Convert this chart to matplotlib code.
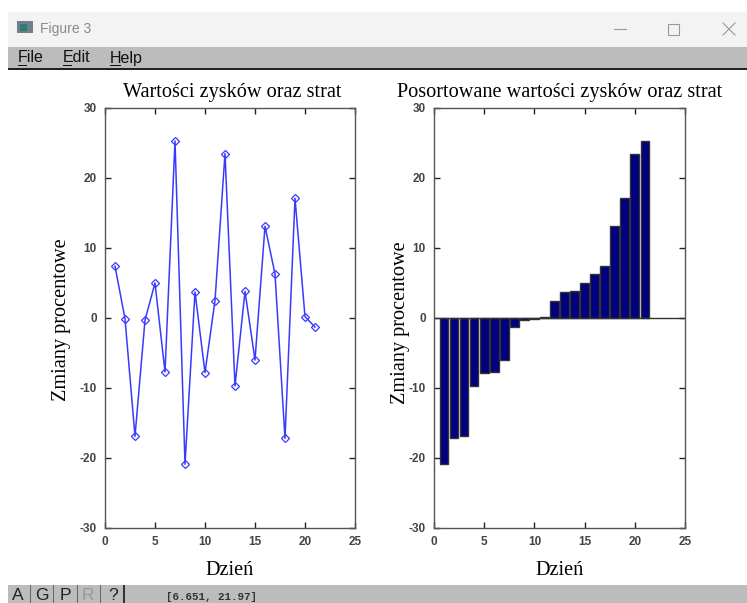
import matplotlib
matplotlib.use("Agg")
import matplotlib.pyplot as plt
from matplotlib.patches import Rectangle

days = list(range(1, 22))
changes = [7.4, -0.1, -16.9, -0.3, 5.0, -7.7, 25.3, -20.9, 3.7, -7.8, 2.5,
           23.5, -9.7, 3.8, -6.0, 13.1, 6.3, -17.2, 17.1, 0.2, -1.3]
sorted_changes = [-20.9, -17.2, -16.9, -9.7, -7.8, -7.7, -6.0, -1.3, -0.3, -0.1, 0.2,
                  2.5, 3.7, 3.8, 5.0, 6.3, 7.4, 13.1, 17.1, 23.5, 25.3]
x_ticks = [0, 5, 10, 15, 20, 25]
y_ticks = [-30, -20, -10, 0, 10, 20, 30]
titles = ["Wartości zysków oraz strat", "Posortowane wartości zysków oraz strat"]
x_name = "Dzień"
y_name = "Zmiany procentowe"
menu_items = [("File", 18, 9), ("Edit", 63, 9), ("Help", 110, 11)]
status_buttons = ["A", "G", "P", "R", "?"]

W, H = 747, 603
SERIF = "Liberation Serif"
SANS = "Liberation Sans"

plt.rcParams["axes.unicode_minus"] = False


def px_box(left, top, right, bottom):
    # pixel box (from top left) to figure fractions
    return [left / W, 1 - bottom / H, (right - left) / W, (bottom - top) / H]


def rect(fig, left, top, right, bottom, color):
    fig.add_artist(Rectangle((left / W, 1 - bottom / H), (right - left) / W, (bottom - top) / H,
                             transform=fig.transFigure, facecolor=color, edgecolor="none"))


def label(fig, x, y, s, **kw):
    fig.text(x / W, 1 - y / H, s, va="center", **kw)


def style_axes(ax, title, title_x, y_label_x, y_label_y):
    ax.set_xlim(0, 25)
    ax.set_ylim(-30, 30)
    ax.set_xticks(x_ticks)
    ax.set_yticks(y_ticks)
    ax.tick_params(direction="in", length=4, width=1, top=True, right=True,
                   labelsize=8.5, labelcolor="#444444", color="#222222", pad=6)
    for t in ax.get_xticklabels() + ax.get_yticklabels():
        t.set_family(SANS)
        t.set_fontweight("bold")
    for s in ax.spines.values():
        s.set_color("#555555")
        s.set_linewidth(1)
    ax.set_title(title, family=SERIF, fontsize=14.6, pad=8, x=title_x)
    ax.set_xlabel(x_name, family=SERIF, fontsize=14.6, labelpad=9)
    ax.set_ylabel(y_name, family=SERIF, fontsize=14.6)
    ax.yaxis.set_label_coords(y_label_x, y_label_y)


def draw_window(fig):
    rect(fig, 8, 12, W, 47, "#f3f3f3")
    rect(fig, 8, 47, W, 68, "#bcbcbc")
    rect(fig, 8, 68, W, 70, "#222222")
    rect(fig, 17, 21, 33, 33, "#6f7f8f")
    rect(fig, 20, 24, 27, 31, "#2f7f6f")
    label(fig, 40, 29, "Figure 3", family=SANS, fontsize=10, color="#8a8a8a")
    # window buttons
    fig.add_artist(plt.Line2D([614 / W, 626 / W], [1 - 29 / H] * 2, color="#999999", lw=0.8))
    fig.add_artist(Rectangle((668 / W, 1 - 35 / H), 11 / W, 11 / H, transform=fig.transFigure,
                             facecolor="none", edgecolor="#999999", lw=0.8))
    fig.add_artist(plt.Line2D([723 / W, 735 / W], [1 - 23 / H, 1 - 35 / H], color="#999999", lw=0.8))
    fig.add_artist(plt.Line2D([723 / W, 735 / W], [1 - 35 / H, 1 - 23 / H], color="#999999", lw=0.8))
    for name, x, under in menu_items:
        label(fig, x, 58, name, family=SANS, fontsize=11.5, color="#111111")
        rect(fig, x, 65, x + under, 66, "#111111")
    # status bar
    rect(fig, 8, 585, W, H, "#bcbcbc")
    rect(fig, 123, 585, 125, H, "#333333")
    text_x = [18, 42, 65, 88, 113]
    sep_x = [30, 53, 77, 100]
    for name, x in zip(status_buttons, text_x):
        c = "#999999" if name == "R" else "#222222"
        label(fig, x, 596, name, family=SANS, fontsize=12.5, color=c, ha="center")
    for x in sep_x:
        rect(fig, x, 585, x + 1, H, "#666666")
    label(fig, 166, 597, "[6.651, 21.97]", family="Liberation Mono", fontsize=7.8,
          color="#333333", fontweight="bold")


def main():
    fig = plt.figure(figsize=(W / 100, H / 100), dpi=100, facecolor="white")
    ax1 = fig.add_axes(px_box(105, 108, 355, 528))
    ax2 = fig.add_axes(px_box(434, 108, 685, 528))

    ax1.plot(days, changes, color="#3a3aff", lw=1.1, marker="D", ms=4.5,
             mfc="none", mec="#3a3aff", mew=0.9)
    style_axes(ax1, titles[0], 0.51, -0.136, 0.495)

    ax2.bar(days, sorted_changes, width=0.86, color="#000080", edgecolor="#333333", linewidth=1)
    ax2.axhline(0, color="#333333", lw=1)
    style_axes(ax2, titles[1], 0.5, -0.096, 0.49)

    draw_window(fig)
    fig.savefig("out.png", dpi=100)


if __name__ == "__main__":
    main()
